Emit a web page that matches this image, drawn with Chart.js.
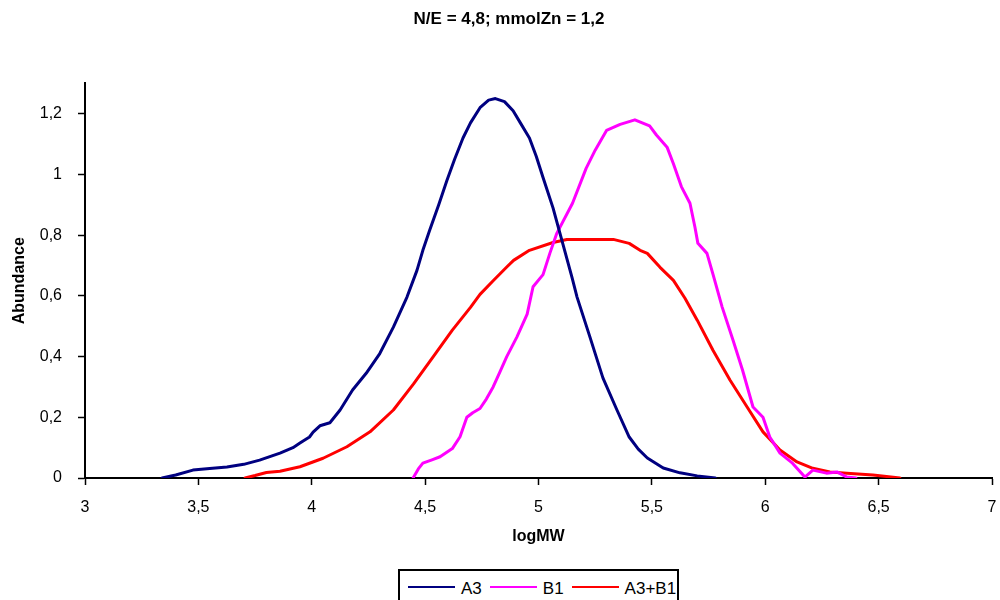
<!DOCTYPE html>
<html>
<head>
<meta charset="utf-8">
<script src="https://cdn.jsdelivr.net/npm/chart.js@4.4.1/dist/chart.umd.min.js"></script>
<style>
html, body { margin: 0; padding: 0; background: #fff; overflow: hidden; }
#wrap { position: relative; width: 1000px; height: 600px; }
#legend {
  position: absolute; left: 398px; top: 569px; height: 44px;
  border: 2px solid #000; box-sizing: border-box; display: flex; align-items: flex-start;
  padding: 8px 1px 0 8px; font: 17px "Liberation Sans", Arial, sans-serif; color: #000; background: #fff;
}
.item { display: flex; align-items: center; margin-right: 8px; line-height: 19px; }
.item:last-child { margin-right: 0; }
.swatch { width: 47px; height: 2px; margin-right: 6px; position: relative; top: -2px; }
</style>
</head>
<body>
<div id="wrap">
  <canvas id="c" width="1000" height="600"></canvas>
  <div id="legend"></div>
</div>
<script>
// ---- data ----
const chartTitle = 'N/E = 4,8; mmolZn = 1,2';
const xTitle = 'logMW';
const yTitle = 'Abundance';
const seriesNames = ['A3', 'B1', 'A3+B1'];
const xTickLabels = ['3', '3,5', '4', '4,5', '5', '5,5', '6', '6,5', '7'];
const yTickLabels = ['0', '0,2', '0,4', '0,6', '0,8', '1', '1,2'];

const a3X = [3.34, 3.40, 3.476, 3.55, 3.626, 3.70, 3.77, 3.86, 3.917, 3.948, 3.99, 4.006, 4.036, 4.08,
  4.125, 4.18, 4.24, 4.30, 4.36, 4.42, 4.464, 4.49, 4.52, 4.56, 4.596, 4.63, 4.667, 4.70, 4.742, 4.78,
  4.81, 4.85, 4.888, 4.92, 4.96, 4.99, 5.02, 5.064, 5.108, 5.148, 5.17, 5.227, 5.284, 5.346, 5.40,
  5.44, 5.48, 5.55, 5.624, 5.70, 5.78];
const a3Y = [0, 0.01, 0.026, 0.031, 0.036, 0.045, 0.059, 0.082, 0.10, 0.115, 0.135, 0.151, 0.172, 0.182,
  0.224, 0.29, 0.345, 0.41, 0.497, 0.596, 0.684, 0.75, 0.816, 0.90, 0.98, 1.05, 1.12, 1.17, 1.22, 1.245,
  1.25, 1.24, 1.21, 1.17, 1.12, 1.06, 0.99, 0.89, 0.77, 0.66, 0.596, 0.464, 0.33, 0.224, 0.135,
  0.095, 0.066, 0.033, 0.017, 0.007, 0];

const b1X = [4.447, 4.47, 4.49, 4.53, 4.566, 4.62, 4.654, 4.684, 4.71, 4.742, 4.77, 4.80, 4.83, 4.86,
  4.905, 4.95, 4.976, 5.02, 5.05, 5.08, 5.15, 5.21, 5.25, 5.30, 5.36, 5.425, 5.49, 5.52, 5.567, 5.595,
  5.63, 5.668, 5.69, 5.703, 5.743, 5.77, 5.81, 5.858, 5.90, 5.946, 5.99, 6.02, 6.065, 6.12, 6.175,
  6.21, 6.27, 6.316, 6.36, 6.40];
const b1Y = [0, 0.03, 0.049, 0.06, 0.07, 0.097, 0.136, 0.20, 0.215, 0.229, 0.26, 0.30, 0.35, 0.40,
  0.465, 0.54, 0.63, 0.67, 0.74, 0.805, 0.905, 1.02, 1.08, 1.145, 1.165, 1.18, 1.16, 1.13, 1.09, 1.035,
  0.96, 0.905, 0.826, 0.773, 0.74, 0.67, 0.563, 0.454, 0.355, 0.234, 0.20, 0.135, 0.082, 0.049, 0.003,
  0.026, 0.016, 0.02, 0.003, 0];

const mixX = [3.706, 3.75, 3.80, 3.86, 3.948, 4.05, 4.155, 4.257, 4.36, 4.449, 4.536, 4.62, 4.70, 4.742,
  4.80, 4.86, 4.89, 4.96, 5.064, 5.125, 5.23, 5.33, 5.40, 5.448, 5.48, 5.536, 5.595, 5.646, 5.70, 5.77,
  5.845, 5.92, 5.99, 6.065, 6.14, 6.21, 6.285, 6.36, 6.475, 6.594];
const mixY = [0, 0.008, 0.018, 0.022, 0.037, 0.065, 0.103, 0.152, 0.224, 0.31, 0.40, 0.487, 0.562, 0.605,
  0.65, 0.695, 0.717, 0.75, 0.776, 0.786, 0.786, 0.786, 0.773, 0.75, 0.74, 0.694, 0.651, 0.592, 0.52, 0.42,
  0.322, 0.234, 0.152, 0.092, 0.053, 0.032, 0.02, 0.016, 0.01, 0];

const seriesColors = ['#000080', '#FF00FF', '#FF0000'];

function toPoints(xs, ys) { return xs.map((x, i) => ({ x: x, y: ys[i] })); }

Chart.defaults.font.family = '"Liberation Sans", Arial, sans-serif';
Chart.defaults.color = '#000';

const seriesData = [toPoints(a3X, a3Y), toPoints(b1X, b1Y), toPoints(mixX, mixY)];

const chart = new Chart(document.getElementById('c'), {
  type: 'line',
  data: {
    datasets: seriesNames.map((name, i) => ({
      label: name,
      data: seriesData[i],
      borderColor: seriesColors[i],
      backgroundColor: seriesColors[i],
      borderWidth: 3,
      pointRadius: 0,
      tension: 0,
      fill: false,
      borderJoinStyle: 'round',
      borderCapStyle: 'round'
    }))
  },
  options: {
    responsive: false,
    animation: false,
    layout: { padding: { left: 18, right: 0, top: 0, bottom: 32 } },
    plugins: {
      legend: { display: false },
      tooltip: { enabled: false },
      title: {
        display: true, text: chartTitle, color: '#000',
        font: { size: 17, weight: 'bold' },
        padding: { top: 9, bottom: 54 }
      }
    },
    scales: {
      x: {
        type: 'linear', min: 3, max: 7,
        ticks: {
          stepSize: 0.5, autoSkip: false, maxRotation: 0, color: '#000',
          font: { size: 16 }, padding: 13,
          callback: (v, i) => xTickLabels[i]
        },
        grid: { drawOnChartArea: false, drawTicks: true, tickLength: 7, tickColor: '#000', tickWidth: 1.5 },
        border: { display: true, color: '#000', width: 2 },
        title: { display: true, text: xTitle, color: '#000', font: { size: 16, weight: 'bold' }, padding: { top: 0, bottom: 22 } },
        afterFit: s => { s.height = 90; s.paddingRight = 8; }
      },
      y: {
        type: 'linear', min: 0, max: 1.3,
        ticks: {
          stepSize: 0.2, color: '#000', font: { size: 16 }, padding: 16,
          callback: (v, i) => yTickLabels[i]
        },
        afterBuildTicks: s => { s.ticks = s.ticks.filter(t => t.value < 1.25); },
        grid: { drawOnChartArea: false, drawTicks: true, tickLength: 7, tickColor: '#000', tickWidth: 1.5 },
        border: { display: true, color: '#000', width: 2 },
        title: { display: true, text: yTitle, color: '#000', font: { size: 16, weight: 'bold' }, padding: { top: -8, bottom: 0 } },
        afterFit: s => { s.width = 67; }
      }
    }
  }
});

// HTML legend built from the chart's datasets
const legendEl = document.getElementById('legend');
chart.data.datasets.forEach(ds => {
  const item = document.createElement('div');
  item.className = 'item';
  const sw = document.createElement('span');
  sw.className = 'swatch';
  sw.style.background = ds.borderColor;
  const tx = document.createElement('span');
  tx.textContent = ds.label;
  item.appendChild(sw); item.appendChild(tx);
  legendEl.appendChild(item);
});
</script>
</body>
</html>
